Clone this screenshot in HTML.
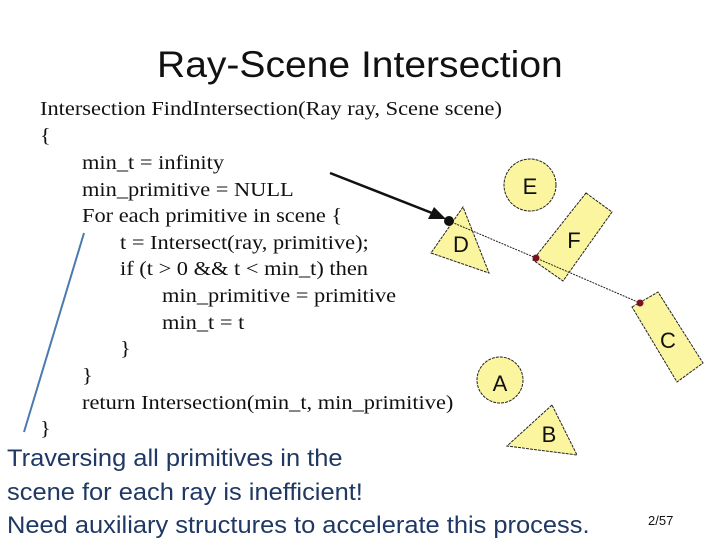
<!DOCTYPE html>
<html><head><style>
body{margin:0;width:720px;height:540px;background:#fff;position:relative;overflow:hidden}
.t{position:absolute;font-family:"Liberation Serif",serif;font-size:20px;color:#111;white-space:nowrap;line-height:1;transform:scaleX(1.12);transform-origin:0 0}
.s{position:absolute;font-family:"Liberation Sans",sans-serif;white-space:nowrap;line-height:1}
</style></head><body>
<div class="s" style="left:157px;top:46px;font-size:37px;color:#111;transform:scaleX(1.055);transform-origin:0 0">Ray-Scene Intersection</div>
<div class="t" style="left:40px;top:99px">Intersection FindIntersection(Ray ray, Scene scene)</div>
<div class="t" style="left:40px;top:126px">{</div>
<div class="t" style="left:82px;top:153px">min_t = infinity</div>
<div class="t" style="left:82px;top:180px">min_primitive = NULL</div>
<div class="t" style="left:82px;top:206px">For each primitive in scene {</div>
<div class="t" style="left:120px;top:233px">t = Intersect(ray, primitive);</div>
<div class="t" style="left:120px;top:259px">if (t &gt; 0 &amp;&amp; t &lt; min_t) then</div>
<div class="t" style="left:162px;top:286px">min_primitive = primitive</div>
<div class="t" style="left:162px;top:313px">min_t = t</div>
<div class="t" style="left:120px;top:339px">}</div>
<div class="t" style="left:82px;top:366px">}</div>
<div class="t" style="left:82px;top:393px">return Intersection(min_t, min_primitive)</div>
<div class="t" style="left:40px;top:419px">}</div>
<svg width="720" height="540" style="position:absolute;left:0;top:0">
<line x1="24" y1="432" x2="84" y2="233" stroke="#4a7ab0" stroke-width="2"/>
<line x1="330" y1="173" x2="432" y2="213" stroke="#111" stroke-width="2.5"/>
<polygon points="446,219 428,219 434,207" fill="#111"/>
<g fill="#fcf5a0" stroke="#222" stroke-width="1" stroke-dasharray="3,1">
<circle cx="530" cy="185" r="26"/>
<polygon points="463,207 431,253 489,273"/>
<polygon points="586,193 612,212 563,281 533,260"/>
<polygon points="632,307 658,292 703,363 677,382"/>
<circle cx="500" cy="380" r="23"/>
<polygon points="552,405 507,446 577,455"/>
</g>
<polyline points="449,221 536,258 640,303" fill="none" stroke="#222" stroke-width="1" stroke-dasharray="2,1"/>
<circle cx="449" cy="221" r="5" fill="#111"/>
<circle cx="536" cy="258" r="3.5" fill="#7a1020"/>
<circle cx="640" cy="303" r="3.5" fill="#7a1020"/>
<g font-family="Liberation Sans,sans-serif" font-size="22" fill="#111" text-anchor="middle">
<text x="530" y="194">E</text><text x="461" y="252">D</text><text x="574" y="248">F</text>
<text x="668" y="348">C</text><text x="500" y="391">A</text><text x="549" y="442">B</text>
</g>
</svg>
<div class="s" style="left:7px;top:442px;font-size:24px;color:#1f3864;line-height:33.5px;transform:scaleX(1.06);transform-origin:0 0">Traversing all primitives in the<br>scene for each ray is inefficient!<br>Need auxiliary structures to accelerate this process.</div>
<div class="s" style="left:648px;top:514px;font-size:13px;color:#111">2/57</div>
</body></html>
